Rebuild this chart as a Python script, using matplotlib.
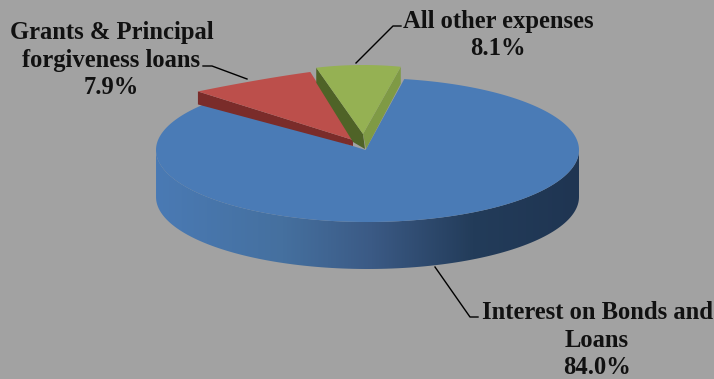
import numpy as np
import matplotlib
matplotlib.use('Agg')
import matplotlib.pyplot as plt
from matplotlib.colors import LinearSegmentedColormap
from matplotlib.patches import Polygon

labels = ['Interest on Bonds and\nLoans', 'Grants & Principal\nforgiveness loans', 'All other expenses']
values = [84.0, 7.9, 8.1]
colors = ['#4a7bb6', '#bc4f4b', '#95b153']

BG = '#a2a2a2'
W, H = 714, 379


def arc(cx, cy, rx0, rx1, ry, a0, a1, n=120):
    # angles run clockwise from the top of the ellipse, rx tapers towards the back
    a = np.linspace(a0, a1, n)
    rx = np.linspace(rx0, rx1, n)
    t = np.radians(a)
    return np.column_stack([cx + rx * np.sin(t), cy - ry * np.cos(t)])


fig = plt.figure(figsize=(W / 100, H / 100), dpi=100, facecolor=BG)
ax = fig.add_axes([0, 0, 1, 1])
ax.set_facecolor(BG)

# spans in degrees, everything starts from the right edge of the big slice
spans = [v / sum(values) * 360 for v in values]
blue_start = 10
blue_end = blue_start + spans[0]
red_start = blue_end - 360
red_end = red_start + spans[1]
green_start = red_end + 3
green_end = green_start + spans[2]

cx, cy, rx, ry, depth = 367.5, 150, 211.5, 72, 47

# blue side wall, dark towards the right
stops = [(0, '#4a7ab4'), (0.3, '#45709f'), (0.51, '#3b5a85'), (0.75, '#233c5a'), (1, '#1f3552')]
cmap = LinearSegmentedColormap.from_list('side', stops)
front = arc(cx, cy, rx, rx, ry, 90, 270)
wall = np.vstack([front, front[::-1] + [0, depth]])
grad = np.linspace(0, 1, 512).reshape(1, -1)
im = ax.imshow(grad, cmap=cmap, extent=(cx - rx, cx + rx, cy + ry + depth, cy - 10),
               aspect='auto', zorder=1)
im.set_clip_path(Polygon(wall, transform=ax.transData))

# blue top face
blue_top = np.vstack([[cx - 2, cy], arc(cx, cy, rx, rx, ry, blue_start, blue_end, 300)])
ax.fill(blue_top[:, 0], blue_top[:, 1], color=colors[0], lw=0, zorder=2)

# red slice, pulled out to the upper left
rcx, rcy = 353, 140
red = arc(rcx, rcy, 210, 130, 72, red_start, red_end)
red_apex = np.array([rcx, rcy])
ax.fill(*np.vstack([red[0], red_apex, red_apex + [0, 6], red[0] + [0, 13]]).T,
        color='#7a2c2a', lw=0, zorder=3)
ax.fill(*np.vstack([red_apex, red]).T, color=colors[1], lw=0, zorder=4)

# green slice, pulled out to the top
gcx, gcy = 363, 134
green = arc(gcx, gcy, 168, 168, 69, green_start, green_end)
green_apex = np.array([gcx, gcy])
ax.fill(*np.vstack([green[0], green_apex, green_apex + [2, 15], green_apex + [-10, 8], green[0] + [0, 15]]).T,
        color='#4f6327', lw=0, zorder=5)
ax.fill(*np.vstack([green[-1], green_apex, green_apex + [3, 15], green[-1] + [0, 17]]).T,
        color='#7f9a45', lw=0, zorder=5)
ax.fill(*np.vstack([green_apex, green]).T, color=colors[2], lw=0, zorder=6)

# leader lines
for xs, ys in [([203, 212, 247], [66, 66, 79]),
               ([401, 393, 356], [26, 26, 63]),
               ([435, 470, 478], [267, 317, 317])]:
    ax.plot(xs, ys, color='black', lw=1.0, zorder=7)

# labels, anchored on the baseline of the last line
font = dict(family='Liberation Serif', fontweight='bold', fontsize=17.7, color='#111111',
            ha='center', va='baseline', linespacing=1.245, zorder=8)
ax.text(597, 374, f'{labels[0]}\n{values[0]:.1f}%', **font)
ax.text(111.5, 94, f'{labels[1]}\n{values[1]:.1f}%', **font)
ax.text(498, 55, f'{labels[2]}\n{values[2]:.1f}%', **font)

ax.set_xlim(0, W)
ax.set_ylim(H, 0)
ax.axis('off')
fig.savefig('out.png', dpi=100, facecolor=BG)
plt.close()
